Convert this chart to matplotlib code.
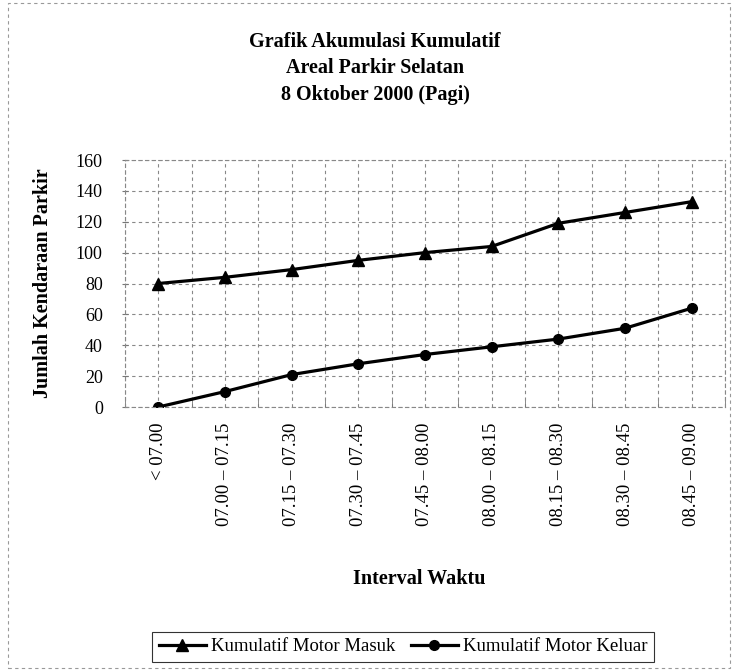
import matplotlib.pyplot as plt
from matplotlib.patches import Rectangle

intervals = ['< 07.00', '07.00 – 07.15', '07.15 – 07.30', '07.30 – 07.45',
             '07.45 – 08.00', '08.00 – 08.15', '08.15 – 08.30',
             '08.30 – 08.45', '08.45 – 09.00']
motor_masuk = [80, 84, 89, 95, 100, 104, 119, 126, 133]
motor_keluar = [0, 10, 21, 28, 34, 39, 44, 51, 64]
yticks = [0, 20, 40, 60, 80, 100, 120, 140, 160]

plt.rcParams['font.family'] = ['Liberation Serif', 'DejaVu Serif']

fig = plt.figure(figsize=(7.32, 6.71), dpi=100)
ax = fig.add_axes([125 / 732, 1 - 407 / 671, 600 / 732, 247 / 671])

x = list(range(len(intervals)))
ax.plot(x, motor_masuk, color='black', linewidth=2.3, marker='^', markersize=8,
        label='Kumulatif Motor Masuk')
ax.plot(x, motor_keluar, color='black', linewidth=2.3, marker='o', markersize=7,
        label='Kumulatif Motor Keluar')

ax.set_xlim(-0.5, len(intervals) - 0.5)
ax.set_ylim(0, 160)
ax.set_yticks(yticks)
ax.set_yticklabels([str(v) for v in yticks], fontsize=13)
ax.set_xticks(x)
ax.set_xticklabels(intervals, rotation=90, fontsize=13.5)
ax.set_xticks([i - 0.5 for i in range(len(intervals) + 1)], minor=True)
ax.tick_params(axis='y', length=4, pad=14, direction='inout', color='#777777')
ax.tick_params(axis='x', which='major', length=0, pad=11)
ax.tick_params(axis='x', which='minor', length=5, direction='in', color='#777777')

ax.grid(True, which='major', axis='both', color='#888888', linestyle=(0, (3, 3)),
        linewidth=0.8)
ax.grid(True, which='minor', axis='x', color='#888888', linestyle=(0, (3, 3)),
        linewidth=0.8)
for s in ax.spines.values():
    s.set_color('#888888')
    s.set_linestyle((0, (3, 3)))
    s.set_linewidth(0.8)

ax.set_ylabel('Jumlah Kendaraan Parkir', fontsize=14.5, fontweight='bold')
ax.yaxis.set_label_coords(-0.12, 0.5)
ax.set_xlabel('Interval Waktu', fontsize=14.5, fontweight='bold')
ax.xaxis.set_label_coords(0.49, -0.655)

title_lines = ['Grafik Akumulasi Kumulatif', 'Areal Parkir Selatan',
               '8 Oktober 2000 (Pagi)']
for line, ypix in zip(title_lines, [42, 68, 95]):
    fig.text(375 / 732, 1 - ypix / 671, line, ha='center', va='center',
             fontsize=14.5, fontweight='bold')

leg = fig.legend(loc='center', bbox_to_anchor=(0.551, 0.036), ncol=2, fontsize=13.5,
                 frameon=True, fancybox=False, edgecolor='black', handlelength=2.5,
                 columnspacing=0.8, handletextpad=0.3, borderpad=0.35)
leg.get_frame().set_linewidth(0.8)

fig.patches.append(Rectangle((8 / 732, 3 / 671), 722 / 732, 665 / 671,
                             transform=fig.transFigure, fill=False,
                             edgecolor='#999999', linestyle=(0, (3, 3)),
                             linewidth=0.8))

fig.savefig('out.png', dpi=100)
